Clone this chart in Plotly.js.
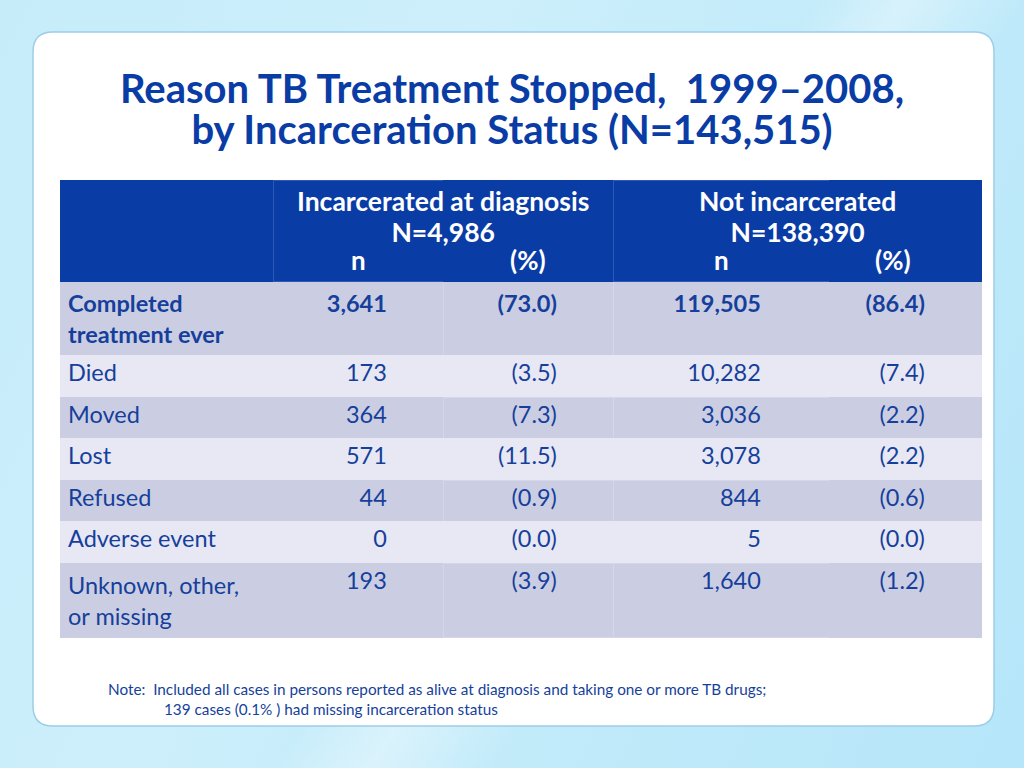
<!DOCTYPE html>
<html>
<head>
<meta charset="utf-8">
<script src="https://cdn.plot.ly/plotly-3.0.1.min.js"></script>
<style>
html, body { margin: 0; padding: 0; width: 1024px; height: 768px; overflow: hidden; }
body {
  background:
    linear-gradient(125deg, rgba(255,255,255,0) 0%, rgba(255,255,255,0) 52%, rgba(255,255,255,0.35) 58%, rgba(255,255,255,0) 66%, rgba(255,255,255,0) 100%),
    linear-gradient(115deg, #c6ecfa 0%, #cdeffb 35%, #c3ebfa 60%, #b5e6f9 100%);
}
#chart { width: 1024px; height: 768px; }
</style>
</head>
<body>
<div id="chart"></div>
<script>
// ---- data ----
const reasons = ['Completed<br>treatment ever', 'Died', 'Moved', 'Lost', 'Refused', 'Adverse event', 'Unknown, other,<br>or missing'];
const incarceratedN = [3641, 173, 364, 571, 44, 0, 193];
const incarceratedPct = [73.0, 3.5, 7.3, 11.5, 0.9, 0.0, 3.9];
const notIncarceratedN = [119505, 10282, 3036, 3078, 844, 5, 1640];
const notIncarceratedPct = [86.4, 7.4, 2.2, 2.2, 0.6, 0.0, 1.2];
const groupHeaders = [['Incarcerated at diagnosis', 'N=4,986'], ['Not incarcerated', 'N=138,390']];
const subHeaders = ['', 'n', '(%)', 'n', '(%)'];
const titleLines = ['Reason TB Treatment Stopped,  1999–2008,', 'by Incarceration Status (N=143,515)'];
const noteLines = [
  'Note:  Included all cases in persons reported as alive at diagnosis and taking one or more TB drugs;',
  '139 cases (0.1% ) had missing incarceration status'
];

// ---- styling / layout helpers ----
const W = 1024, H = 768;
const px = x => x / W;
const py = y => 1 - y / H;
const FONT = 'Lato, "Open Sans", sans-serif';
const BLUE = '#0a3ca6';
const TEXT = '#163f9c';
const DARK = '#cbcee2';
const LIGHT = '#e7e8f3';
const DARK_LINE = '#d4d7e8';

const ctx = document.createElement('canvas').getContext('2d');
function nbsp(pixels, size, weight) {
  ctx.font = (weight || 'normal') + ' ' + size + 'px Lato';
  const w = ctx.measureText('\u00a0').width || size * 0.2;
  return '\u00a0'.repeat(Math.max(0, Math.round(pixels / w)));
}
// multi-line text whose glyphs are bigger than the line pitch font
const sized = (lines, size) => lines.map(s => '<span style="font-size:' + size + 'px">' + s + '</span>').join('<br>');

const bodySize = 23.5;
const fmtN = v => v.toLocaleString('en-US');
const fmtP = v => '(' + v.toFixed(1) + ')';
const boldFirst = (arr) => arr.map((s, i) => i === 0 ? '<b>' + s + '</b>' : s);
const noWrap = s => s.replace(/ /g, '\u00a0');

const colValues = [
  boldFirst(reasons.map(noWrap)),
  boldFirst(incarceratedN.map(fmtN)),
  boldFirst(incarceratedPct.map(fmtP)),
  boldFirst(notIncarceratedN.map(fmtN)),
  boldFirst(notIncarceratedPct.map(fmtP))
];
const rowFill = reasons.map((_, i) => i % 2 === 0 ? DARK : LIGHT);
const rowLine = reasons.map((_, i) => i % 2 === 0 ? DARK_LINE : LIGHT);
const fills = colValues.map(() => rowFill);
const lines = [rowFill, rowFill, rowLine, rowLine, rowFill];

const table = {
  type: 'table',
  domain: { x: [px(60), px(981)], y: [py(660), py(180)] },
  columnwidth: [213, 170, 170, 216, 152],
  header: {
    values: subHeaders.map(() => ''),
    align: 'center',
    height: 101,
    fill: { color: BLUE },
    line: { color: [BLUE, '#2d58b4', BLUE, '#2d58b4', BLUE], width: 1 },
    font: { family: FONT, size: 24, color: 'white', weight: 'bold' }
  },
  cells: {
    values: colValues,
    suffix: ['', nbsp(49, bodySize), nbsp(50, bodySize), nbsp(62, bodySize), nbsp(49, bodySize)],
    align: ['left', 'right', 'right', 'right', 'right'],
    height: 41.5,
    fill: { color: fills },
    line: { color: lines, width: 1 },
    font: { family: FONT, size: bodySize, color: TEXT }
  }
};

const r = 20, L = 33, T = 32, R = 994, B = 726;
const panelPath = [
  'M', px(L + r), py(T),
  'L', px(R - r), py(T), 'Q', px(R), py(T), px(R), py(T + r),
  'L', px(R), py(B - r), 'Q', px(R), py(B), px(R - r), py(B),
  'L', px(L + r), py(B), 'Q', px(L), py(B), px(L), py(B - r),
  'L', px(L), py(T + r), 'Q', px(L), py(T), px(L + r), py(T), 'Z'
].join(' ');

const headerFont = { family: FONT, size: 24, color: 'white', weight: 'bold' };
const subX = [0, 358, 528, 721, 893];
const annotations = [
  { text: sized(groupHeaders[0], 26.5), x: px(443), y: py(216) },
  { text: sized(groupHeaders[1], 26.5), x: px(797), y: py(216) }
].concat(subHeaders.map((s, i) => ({ text: sized([s], 26), x: px(subX[i]), y: py(260) })).filter(a => a.text.indexOf('></') === -1))
 .map(a => Object.assign({ xref: 'paper', yref: 'paper', xanchor: 'center', yanchor: 'middle', showarrow: false, font: headerFont }, a));

annotations.push(
  { text: noteLines[0], x: px(106), y: py(689), xref: 'paper', yref: 'paper', xanchor: 'left', yanchor: 'middle', showarrow: false,
    font: { family: FONT, size: 15.3, color: TEXT } },
  { text: noteLines[1], x: px(162), y: py(709), xref: 'paper', yref: 'paper', xanchor: 'left', yanchor: 'middle', showarrow: false,
    font: { family: FONT, size: 15.3, color: TEXT } }
);

const layout = {
  width: W, height: H,
  margin: { l: 0, r: 0, t: 0, b: 0 },
  paper_bgcolor: 'rgba(0,0,0,0)',
  plot_bgcolor: 'rgba(0,0,0,0)',
  title: {
    text: sized(titleLines, 40),
    font: { family: FONT, size: 31.5, color: BLUE, weight: 'bold' },
    x: 0.5, xanchor: 'center', xref: 'paper',
    y: py(103), yanchor: 'middle', yref: 'container'
  },
  shapes: [
    { type: 'path', xref: 'paper', yref: 'paper', path: panelPath, fillcolor: 'white', line: { color: '#9dcde8', width: 1.5 }, layer: 'below' }
  ],
  annotations: annotations
};

Plotly.newPlot('chart', [table], layout, { staticPlot: true, displayModeBar: false }).then(() => {
  // keep the text layer above the table layer
  const svg = document.querySelector('#chart .main-svg');
  const info = svg && svg.querySelector('.infolayer');
  if (info) svg.appendChild(info);
});
</script>
</body>
</html>
